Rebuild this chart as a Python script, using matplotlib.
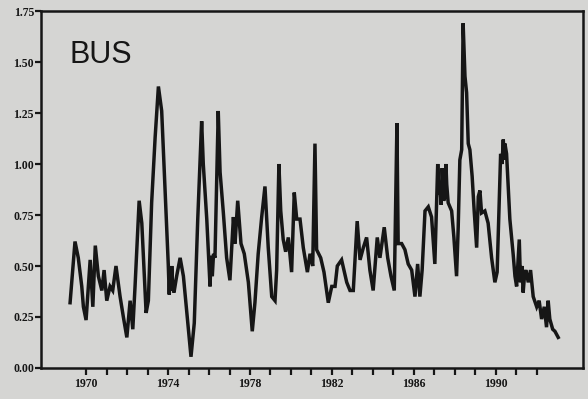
import matplotlib
matplotlib.use("Agg")
import matplotlib.pyplot as plt
import numpy as np

# BUS series, decimal year vs value
years = [1969.22, 1969.46, 1969.62, 1969.79, 1969.87, 1970.00, 1970.20, 1970.33,
         1970.45, 1970.60, 1970.77, 1970.88, 1971.01, 1971.17, 1971.30, 1971.46,
         1971.66, 1971.82, 1971.99, 1972.15, 1972.28, 1972.39, 1972.59, 1972.72,
         1972.93, 1973.04, 1973.20, 1973.37, 1973.53, 1973.69, 1973.85, 1974.01,
         1974.06, 1974.10, 1974.14, 1974.18, 1974.23, 1974.29, 1974.42, 1974.59, 1974.75, 1974.91, 1975.12,
         1975.28, 1975.45, 1975.64, 1975.72, 1975.89, 1976.05, 1976.10, 1976.16, 1976.22, 1976.29,
         1976.45, 1976.54, 1976.70, 1976.86, 1977.02, 1977.19, 1977.27, 1977.40,
         1977.56, 1977.72, 1977.92, 1978.11, 1978.24, 1978.40, 1978.57, 1978.73,
         1978.89, 1979.06, 1979.22, 1979.30, 1979.41, 1979.50, 1979.62, 1979.74,
         1979.87, 1980.03, 1980.16, 1980.28, 1980.44, 1980.60, 1980.80, 1980.93,
         1981.06, 1981.17, 1981.25, 1981.45, 1981.61, 1981.82, 1981.99, 1982.15,
         1982.26, 1982.47, 1982.72, 1982.88, 1983.04, 1983.23, 1983.37, 1983.53,
         1983.69, 1983.85, 1984.01, 1984.21, 1984.34, 1984.55, 1984.72, 1984.88,
         1985.04, 1985.17, 1985.23, 1985.40, 1985.56, 1985.72, 1985.89, 1986.05,
         1986.18, 1986.29, 1986.40, 1986.54, 1986.70, 1986.86, 1987.02, 1987.16,
         1987.22, 1987.27, 1987.33, 1987.38, 1987.45, 1987.51, 1987.56, 1987.60,
         1987.67, 1987.84, 1987.95, 1988.08, 1988.16, 1988.24, 1988.33, 1988.40,
         1988.49, 1988.57, 1988.65, 1988.73, 1988.84, 1988.94, 1989.06, 1989.14,
         1989.22, 1989.30, 1989.46, 1989.62, 1989.79, 1989.95, 1990.06, 1990.16,
         1990.23, 1990.30, 1990.36, 1990.40, 1990.44, 1990.52, 1990.60, 1990.68,
         1990.84, 1990.93, 1991.01, 1991.08, 1991.14, 1991.20, 1991.27, 1991.33, 1991.40, 1991.46, 1991.58,
         1991.69, 1991.82, 1991.99, 1992.11, 1992.23, 1992.36, 1992.47, 1992.55,
         1992.63, 1992.77, 1992.88, 1993.04]
bus = [0.32, 0.62, 0.54, 0.40, 0.30, 0.235, 0.53, 0.30,
       0.60, 0.45, 0.38, 0.48, 0.33, 0.40, 0.38, 0.50,
       0.35, 0.25, 0.15, 0.33, 0.19, 0.40, 0.82, 0.71,
       0.27, 0.33, 0.81, 1.13, 1.38, 1.26, 0.89, 0.51,
       0.36, 0.48, 0.38, 0.50, 0.40, 0.37, 0.45, 0.54, 0.45, 0.28, 0.055,
       0.22, 0.73, 1.21, 1.00, 0.73, 0.40, 0.55, 0.45, 0.56, 0.54,
       1.26, 0.96, 0.76, 0.54, 0.43, 0.74, 0.61, 0.82,
       0.61, 0.56, 0.42, 0.18, 0.32, 0.56, 0.74, 0.89,
       0.59, 0.35, 0.33, 0.48, 1.00, 0.77, 0.63, 0.57,
       0.64, 0.47, 0.86, 0.73, 0.73, 0.59, 0.47, 0.56,
       0.50, 1.10, 0.58, 0.54, 0.47, 0.32, 0.40, 0.40,
       0.50, 0.53, 0.42, 0.38, 0.38, 0.72, 0.53, 0.59,
       0.64, 0.48, 0.38, 0.64, 0.54, 0.69, 0.54, 0.45,
       0.38, 1.20, 0.61, 0.61, 0.58, 0.51, 0.48, 0.35,
       0.51, 0.35, 0.48, 0.77, 0.79, 0.74, 0.51, 1.00,
       0.85, 0.89, 0.80, 0.98, 0.82, 0.84, 1.00, 0.90,
       0.81, 0.77, 0.64, 0.45, 0.69, 1.02, 1.07, 1.69,
       1.43, 1.35, 1.10, 1.07, 0.94, 0.77, 0.59, 0.84,
       0.87, 0.76, 0.77, 0.71, 0.54, 0.42, 0.47, 0.82,
       1.05, 1.00, 1.12, 1.02, 1.10, 1.05, 0.89, 0.73,
       0.56, 0.45, 0.40, 0.52, 0.63, 0.42, 0.50, 0.37, 0.46, 0.48, 0.42,
       0.48, 0.35, 0.30, 0.33, 0.24, 0.30, 0.20, 0.33,
       0.24, 0.19, 0.18, 0.15]

yticks = [0.00, 0.25, 0.50, 0.75, 1.00, 1.25, 1.50, 1.75]
xlabels = [1970, 1974, 1978, 1982, 1986, 1990]
xminor = list(range(1970, 1993))

bg = '#d5d5d3'
ink = '#161616'

fig = plt.figure(figsize=(5.88, 3.99), dpi=100, facecolor=bg)
ax = fig.add_axes([0.0697, 0.0777, 0.9218, 0.8947], facecolor=bg)

ax.plot(years, bus, color=ink, lw=2.5, solid_joinstyle='miter')

ax.set_xlim(1967.8, 1994.25)
ax.set_ylim(0, 1.75)

ax.set_yticks(yticks)
ax.set_yticklabels(['%.2f' % v for v in yticks])
ax.set_xticks(xlabels)
ax.set_xticklabels([str(v) for v in xlabels])
ax.set_xticks(xminor, minor=True)

for s in ax.spines.values():
    s.set_color(ink)
    s.set_linewidth(1.8)

ax.tick_params(axis='both', which='both', direction='out', color=ink,
               width=1.6, labelcolor=ink)
ax.tick_params(axis='x', which='both', length=5, pad=2)
ax.tick_params(axis='y', length=4, pad=1)
for lab in ax.get_xticklabels() + ax.get_yticklabels():
    lab.set_family('Liberation Serif')
    lab.set_fontsize(8.5)
    lab.set_fontweight('bold')

ax.text(0.053, 0.92, 'BUS', transform=ax.transAxes, ha='left', va='top',
        family='Liberation Sans', fontsize=22, color=ink)

fig.savefig('out.png', dpi=100, facecolor=bg)
